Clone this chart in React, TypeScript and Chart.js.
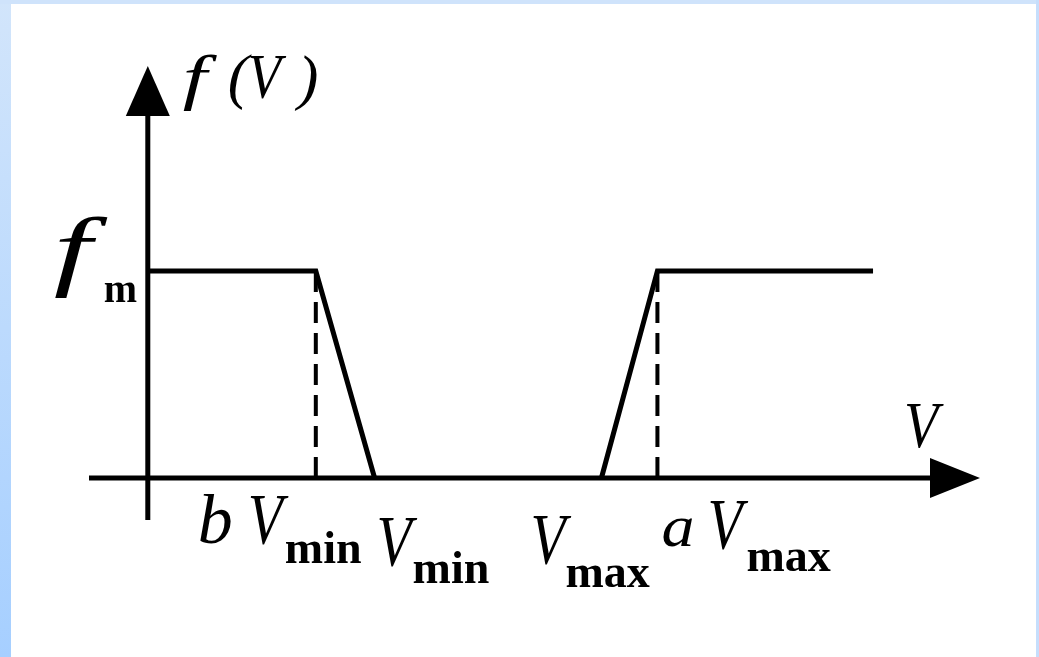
import React, { useEffect, useRef } from "react";
import { Chart, registerables } from "chart.js";

Chart.register(...registerables);

// ---- data (abstract units: y-axis at V = 0, x-axis at f = 0) ----
const fm = 1;
const tickKeys = ["bVmin", "Vmin", "Vmax", "aVmax"];
const tickValues = [3, 4.05, 8.1, 9.1];
const plateauEnd = 12.95;
const leftX = [0, 3, 4.05];
const leftY = [1, 1, 0];
const rightX = [8.1, 9.1, plateauEnd];
const rightY = [0, 1, 1];
const dashX = [3, 9.1];
const axisXRange = [-1.05, 14.86];
const axisYRange = [-0.203, 1.99];

const SERIF = '"Liberation Serif", "DejaVu Serif", serif';

function txt(ctx: CanvasRenderingContext2D, s: string, x: number, y: number, font: string, sx = 1) {
  ctx.save();
  ctx.font = font;
  ctx.fillStyle = "#000";
  ctx.textBaseline = "alphabetic";
  ctx.textAlign = "left";
  ctx.translate(x, y);
  ctx.scale(sx, 1);
  ctx.fillText(s, 0, 0);
  ctx.restore();
}

const diagramPlugin = {
  id: "diagram",
  beforeDraw(chart: any) {
    const ctx = chart.ctx as CanvasRenderingContext2D;
    const W = chart.width, H = chart.height;
    ctx.save();
    ctx.fillStyle = "#ffffff";
    ctx.fillRect(0, 0, W, H);
    const g = ctx.createLinearGradient(0, 0, 0, H);
    g.addColorStop(0, "#d2e5fb");
    g.addColorStop(1, "#a6cfff");
    ctx.fillStyle = g;
    ctx.fillRect(0, 0, 11, H);
    ctx.fillStyle = "#cfe3fb";
    ctx.fillRect(0, 0, W, 4);
    ctx.fillStyle = "#c6defc";
    ctx.fillRect(W - 3, 0, 3, H);
    ctx.restore();
  },
  afterDatasetsDraw(chart: any) {
    const ctx = chart.ctx as CanvasRenderingContext2D;
    const xs = chart.scales.x, ys = chart.scales.y;
    const x0 = xs.getPixelForValue(0);
    const y0 = ys.getPixelForValue(0);
    const xL = xs.getPixelForValue(axisXRange[0]);
    const xR = xs.getPixelForValue(axisXRange[1]);
    const yB = ys.getPixelForValue(axisYRange[0]);
    const yT = ys.getPixelForValue(axisYRange[1]);
    ctx.save();
    ctx.strokeStyle = "#000";
    ctx.fillStyle = "#000";
    ctx.lineWidth = 5;
    // axes
    ctx.beginPath();
    ctx.moveTo(xL, y0);
    ctx.lineTo(xR - 40, y0);
    ctx.moveTo(x0, yB);
    ctx.lineTo(x0, yT + 40);
    ctx.stroke();
    // arrows
    ctx.beginPath();
    ctx.moveTo(x0, yT);
    ctx.lineTo(x0 - 22, yT + 50);
    ctx.lineTo(x0 + 22, yT + 50);
    ctx.closePath();
    ctx.fill();
    ctx.beginPath();
    ctx.moveTo(xR, y0);
    ctx.lineTo(xR - 50, y0 - 20);
    ctx.lineTo(xR - 50, y0 + 20);
    ctx.closePath();
    ctx.fill();
    ctx.restore();

    const it = (s: number) => `italic ${s}px ${SERIF}`;
    const bd = (s: number) => `bold ${s}px ${SERIF}`;
    // f(V)
    txt(ctx, "f", x0 + 35, 98, it(62), 1.4);
    txt(ctx, "(", x0 + 80, 97, it(62));
    txt(ctx, "V", x0 + 100, 98, it(64), 0.85);
    txt(ctx, ")", x0 + 150, 98, it(62));
    // f_m
    const yf = ys.getPixelForValue(fm);
    txt(ctx, "f", x0 - 94, yf + 8, it(88), 1.55);
    txt(ctx, "m", x0 - 44, yf + 31, bd(40));
    // V axis label
    txt(ctx, "V", xR - 76, y0 - 31, it(66), 0.85);
    // tick labels
    const px = tickValues.map((v) => xs.getPixelForValue(v));
    const lab: Record<string, () => void> = {
      bVmin: () => {
        const p = px[0];
        txt(ctx, "b", p - 118, y0 + 65, it(70));
        txt(ctx, "V", p - 68, y0 + 65, it(72), 0.8);
        txt(ctx, "min", p - 31, y0 + 85, bd(46));
      },
      Vmin: () => {
        const p = px[1];
        txt(ctx, "V", p + 2, y0 + 87, it(72), 0.8);
        txt(ctx, "min", p + 38, y0 + 105, bd(46));
      },
      Vmax: () => {
        const p = px[2];
        txt(ctx, "V", p - 71, y0 + 85, it(72), 0.8);
        txt(ctx, "max", p - 36, y0 + 109, bd(46));
      },
      aVmax: () => {
        const p = px[3];
        txt(ctx, "a", p + 4, y0 + 68, it(60), 1.1);
        txt(ctx, "V", p + 50, y0 + 70, it(72), 0.8);
        txt(ctx, "max", p + 89, y0 + 93, bd(46));
      },
    };
    tickKeys.forEach((k) => lab[k]());
  },
};

export default function App() {
  const ref = useRef<HTMLCanvasElement>(null);
  useEffect(() => {
    if (!ref.current) return;
    const solid = { borderColor: "#000", borderWidth: 5, pointRadius: 0, showLine: true, fill: false, tension: 0 };
    const dashed = { borderColor: "#000", borderWidth: 4, pointRadius: 0, showLine: true, fill: false, borderDash: [21, 10] };
    const chart = new Chart(ref.current, {
      type: "scatter",
      data: {
        datasets: [
          { ...solid, data: leftX.map((x, i) => ({ x, y: leftY[i] })) },
          { ...solid, data: rightX.map((x, i) => ({ x, y: rightY[i] })) },
          ...dashX.map((x) => ({ ...dashed, data: [{ x, y: 0 }, { x, y: fm }] })),
        ],
      },
      options: {
        animation: false,
        responsive: false,
        maintainAspectRatio: false,
        layout: { padding: { left: 89, right: 59, top: 66, bottom: 137 } },
        plugins: { legend: { display: false }, tooltip: { enabled: false } },
        events: [],
        scales: {
          x: { type: "linear", min: axisXRange[0], max: axisXRange[1], display: false },
          y: { type: "linear", min: axisYRange[0], max: axisYRange[1], display: false },
        },
      },
      plugins: [diagramPlugin],
    } as any);
    return () => chart.destroy();
  }, []);
  return (
    <div style={{ position: "fixed", left: 0, top: 0, width: 1039, height: 657 }}>
      <canvas ref={ref} width={1039} height={657} style={{ display: "block", width: 1039, height: 657 }} />
    </div>
  );
}
